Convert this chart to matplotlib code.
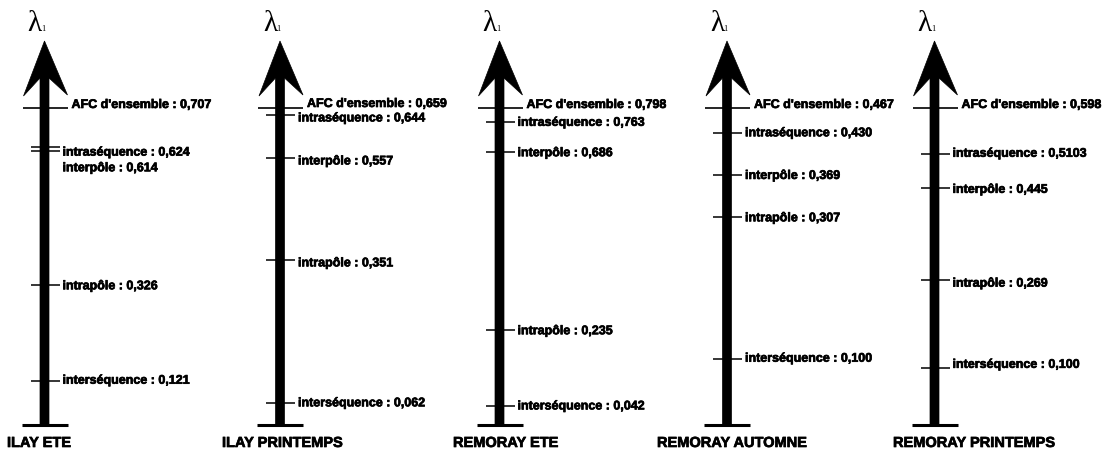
import matplotlib
matplotlib.use("Agg")
import matplotlib.pyplot as plt
from matplotlib.patches import Polygon
from matplotlib import transforms
import matplotlib.patheffects as pe

plt.rcParams["font.family"] = ["Liberation Sans", "DejaVu Sans"]

# ---- data -------------------------------------------------------------
panel_names = ["ILAY ETE", "ILAY PRINTEMPS", "REMORAY ETE",
               "REMORAY AUTOMNE", "REMORAY PRINTEMPS"]
level_names = ["AFC d'ensemble", "intraséquence", "interpôle",
               "intrapôle", "interséquence"]

ilay_ete = [0.707, 0.624, 0.614, 0.326, 0.121]
ilay_printemps = [0.659, 0.644, 0.557, 0.351, 0.062]
remoray_ete = [0.798, 0.763, 0.686, 0.235, 0.042]
remoray_automne = [0.467, 0.430, 0.369, 0.307, 0.100]
remoray_printemps = [0.598, 0.5103, 0.445, 0.269, 0.100]

panel_values = [ilay_ete, ilay_printemps, remoray_ete,
                remoray_automne, remoray_printemps]

# ---- layout (pixels) --------------------------------------------------
W, H = 1117, 453
shaft_x = [44.5, 280, 499.5, 727, 934.5]
zero_px = [437, 434, 423, 427, 420]      # where lambda = 0 sits on each scale
top_px = 108                             # where the global AFC value sits
title_x = [7, 222, 453, 657, 893]
# vertical label nudges (pixels, positive = downwards)
label_nudge = [[-3, 6, 17, 1, 0],
               [-4, 3, 3, 3, 0],
               [-3, 1, 1, 1, 0],
               [-3, 0, 1, 1, 0],
               [-3, 0, 2, 4, -3]]

bold = dict(fontweight="bold",
            path_effects=[pe.withStroke(linewidth=0.5, foreground="black")])


def fmt(v):
    s = f"{v:.4f}".rstrip("0")
    ent, dec = s.split(".")
    dec = dec.ljust(3, "0")
    return f"{ent},{dec}"


fig = plt.figure(figsize=(W / 100, H / 100), dpi=100)

# decoration layer in pixel coordinates
deco = fig.add_axes([0, 0, 1, 1])
deco.set_xlim(0, W)
deco.set_ylim(H, 0)
deco.axis("off")

for i, (name, vals) in enumerate(zip(panel_names, panel_values)):
    sx = shaft_x[i]

    # arrow: shaft + notched head
    arrow = Polygon([(sx, 41), (sx + 23, 95), (sx + 4.5, 78), (sx + 4.5, 425),
                     (sx - 4.5, 425), (sx - 4.5, 78), (sx - 21, 96)],
                    closed=True, facecolor="black", edgecolor="black", lw=0.5)
    deco.add_patch(arrow)
    deco.hlines(425, sx - 23, sx + 23, color="black", lw=2.2)

    # lambda_1 symbol above the arrow
    deco.text(sx - 10, 31, "λ", family="Liberation Serif", fontsize=21,
              ha="center", va="baseline")
    deco.text(sx - 3.5, 31, "1", family="Liberation Serif", fontsize=6,
              ha="left", va="baseline")

    deco.text(title_x[i], 447, name, fontsize=10.5, ha="left",
              va="baseline", **bold)

    # value axis for this panel
    ax = fig.add_axes([0, 0, 1, 1])
    ax.patch.set_visible(False)
    ax.axis("off")
    ax.set_xlim(0, W)
    f0 = 1 - zero_px[i] / H
    f1 = 1 - top_px / H
    k = vals[0] / (f1 - f0)
    ax.set_ylim(-f0 * k, (1 - f0) * k)

    ax.hlines(vals[0], sx - 22, sx + 23, color="black", lw=1.2)
    ax.hlines(vals[1:], sx - 14, sx + 15, color="black", lw=1.1)

    for j, (lvl, v) in enumerate(zip(level_names, vals)):
        tr = transforms.offset_copy(ax.transData, fig=fig, x=0,
                                    y=-label_nudge[i][j] * 0.72, units="points")
        xoff = 27 if j == 0 else 18
        ax.text(sx + xoff, v, f"{lvl} : {fmt(v)}", transform=tr,
                fontsize=9, ha="left", va="center", **bold)

fig.savefig("out.png", dpi=100, facecolor="white")
